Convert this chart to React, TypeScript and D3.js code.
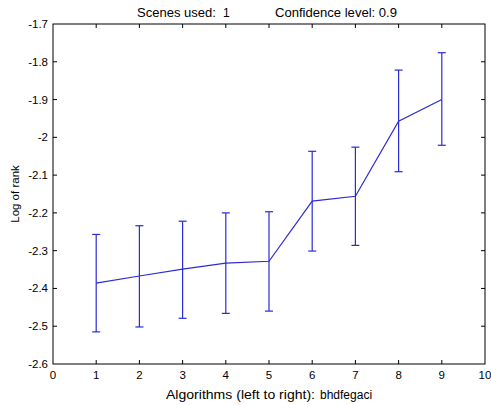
import React, { useEffect, useRef } from "react";
import * as d3 from "d3";

// algorithm positions (left to right: b h d f e g a c i)
const positions = [1, 2, 3, 4, 5, 6, 7, 8, 9];
const means = [-2.386, -2.367, -2.349, -2.333, -2.328, -2.169, -2.156, -1.957, -1.9];
const lower = [-2.515, -2.502, -2.479, -2.466, -2.460, -2.301, -2.286, -2.091, -2.021];
const upper = [-2.257, -2.234, -2.222, -2.200, -2.197, -2.037, -2.026, -1.822, -1.776];
const xTicks = [0, 1, 2, 3, 4, 5, 6, 7, 8, 9, 10];
const yTicks = [-2.6, -2.5, -2.4, -2.3, -2.2, -2.1, -2, -1.9, -1.8, -1.7];

const W = 491;
const H = 405;
const margin = { top: 24, right: 6, bottom: 41, left: 53 };
const FONT = "Liberation Sans, Arial, sans-serif";
const BLUE = "#2a2ad6";

export default function App() {
  const ref = useRef<SVGSVGElement>(null);

  useEffect(() => {
    const svg = d3.select(ref.current);
    svg.selectAll("*").remove();

    const x = d3.scaleLinear().domain([0, 10]).range([margin.left, W - margin.right]);
    const y = d3.scaleLinear().domain([-2.6, -1.7]).range([H - margin.bottom, margin.top]);

    svg.append("rect").attr("width", W).attr("height", H).attr("fill", "#fff");

    // box
    svg
      .append("rect")
      .attr("x", x(0))
      .attr("y", y(-1.7))
      .attr("width", x(10) - x(0))
      .attr("height", y(-2.6) - y(-1.7))
      .attr("fill", "none")
      .attr("stroke", "#000")
      .attr("stroke-width", 1);

    const g = svg.append("g").attr("font-family", FONT).attr("font-size", 11.5).attr("fill", "#000");
    const tickLen = 4;

    // x ticks (bottom and top, inward)
    xTicks.forEach((t) => {
      if (t > 0 && t < 10) {
        g.append("line").attr("x1", x(t)).attr("x2", x(t)).attr("y1", y(-2.6)).attr("y2", y(-2.6) - tickLen).attr("stroke", "#000");
        g.append("line").attr("x1", x(t)).attr("x2", x(t)).attr("y1", y(-1.7)).attr("y2", y(-1.7) + tickLen).attr("stroke", "#000");
      }
      g.append("text")
        .attr("x", x(t))
        .attr("y", y(-2.6) + 15)
        .attr("text-anchor", "middle")
        .text(d3.format("d")(t));
    });

    // y ticks (left and right, inward)
    yTicks.forEach((t) => {
      if (t > -2.6 && t < -1.7) {
        g.append("line").attr("x1", x(0)).attr("x2", x(0) + tickLen).attr("y1", y(t)).attr("y2", y(t)).attr("stroke", "#000");
        g.append("line").attr("x1", x(10)).attr("x2", x(10) - tickLen).attr("y1", y(t)).attr("y2", y(t)).attr("stroke", "#000");
      }
      g.append("text")
        .attr("x", x(0) - 5)
        .attr("y", y(t) + 4)
        .attr("text-anchor", "end")
        .text(String(+t.toFixed(1)));
    });

    // error bars
    const cap = 4;
    positions.forEach((p, i) => {
      const eb = svg.append("g").attr("stroke", BLUE).attr("stroke-width", 1.2);
      eb.append("line").attr("x1", x(p)).attr("x2", x(p)).attr("y1", y(lower[i])).attr("y2", y(upper[i]));
      eb.append("line").attr("x1", x(p) - cap).attr("x2", x(p) + cap).attr("y1", y(lower[i])).attr("y2", y(lower[i]));
      eb.append("line").attr("x1", x(p) - cap).attr("x2", x(p) + cap).attr("y1", y(upper[i])).attr("y2", y(upper[i]));
    });

    // mean line
    const line = d3
      .line<number>()
      .x((_, i) => x(positions[i]))
      .y((d) => y(d));
    svg.append("path").datum(means).attr("d", line).attr("fill", "none").attr("stroke", BLUE).attr("stroke-width", 1.2);

    // titles, stretched to the reference widths
    const label = (txt: string, x0: number, y0: number, len?: number) => {
      const t = g.append("text").attr("x", x0).attr("y", y0).attr("font-size", 12).text(txt);
      if (len) t.attr("textLength", len).attr("lengthAdjust", "spacingAndGlyphs");
      return t;
    };
    label("Scenes used:", 137, 17, 79);
    label("1", 223, 17);
    label("Confidence level: 0.9", 275, 17, 122);
    label("Algorithms (left to right):", 166, 399, 149);
    label("bhdfegaci", 320, 399);

    g.append("text")
      .attr("transform", `translate(19,${(y(-1.7) + y(-2.6)) / 2}) rotate(-90)`)
      .attr("text-anchor", "middle")
      .attr("font-size", 11.5)
      .text("Log of rank");
  }, []);

  return <svg ref={ref} width={W} height={H} style={{ position: "absolute", left: 0, top: 0 }} />;
}
